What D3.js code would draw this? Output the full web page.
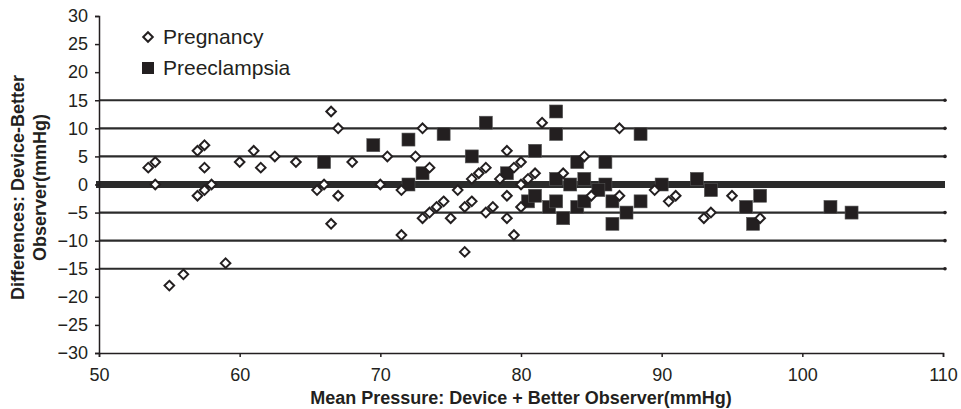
<!DOCTYPE html>
<html>
<head>
<meta charset="utf-8">
<script src="https://cdn.jsdelivr.net/npm/d3@7"></script>
<style>
  body { margin: 0; background: #fff; }
  text { font-family: "Liberation Sans", Arial, sans-serif; fill: #231f20; }
</style>
</head>
<body>
<div id="wrapper"></div>
<script>
// Bland-Altman style plot: device vs better observer

// Pregnancy (open diamonds) [mean, difference]
var pregnancyMean = [53.5, 54, 54, 55, 56, 57, 57.5, 57.5, 57, 57.5, 58, 59, 60, 61, 61.5, 62.5, 64, 65.5, 66, 66.5,
  66.5, 67, 68, 67, 70.5, 70, 71.5, 71.5, 73, 72.5, 73.5, 73, 73.5, 74, 74.5, 75, 75.5, 76, 76.5, 76,
  76.5, 77, 77.5, 77.5, 78, 78.5, 79, 79, 79, 79.5, 79.5, 80, 80, 80, 80.5, 81, 81.5, 83, 84.5, 85,
  87, 87, 89.5, 90.5, 91, 93, 93.5, 95, 97];
var pregnancyDiff = [3, 4, 0, -18, -16, 6, 7, 3, -2, -1, 0, -14, 4, 6, 3, 5, 4, -1, 0, -7,
  13, 10, 4, -2, 5, 0, -1, -9, 10, 5, 3, -6, -5, -4, -3, -6, -1, -4, -3, -12,
  1, 2, 3, -5, -4, 1, 6, -2, -6, -9, 3, 4, -4, 0, 1, 2, 11, 2, 5, -2,
  10, -2, -1, -3, -2, -6, -5, -2, -6];

// Preeclampsia (filled squares)
var preeclampsiaMean = [66, 69.5, 72, 72, 73, 74.5, 76.5, 77.5, 79, 81, 80.5, 81, 82.5, 82.5, 82.5, 82, 82.5, 83, 83.5, 84,
  84.5, 84, 84.5, 86, 86, 85.5, 86.5, 86.5, 87.5, 88.5, 88.5, 90, 92.5, 93.5, 97, 96, 96.5, 102, 103.5];
var preeclampsiaDiff = [4, 7, 8, 0, 2, 9, 5, 11, 2, 6, -3, -2, 13, 9, 1, -4, -3, -6, 0, 4,
  1, -4, -3, 4, 0, -1, -3, -7, -5, 9, -3, 0, 1, -1, -2, -4, -7, -4, -5];

// horizontal reference lines
var refLines = [15, 10, 5, 0, -5, -10, -15];

var xTicks = [50, 60, 70, 80, 90, 100, 110];
var yTicks = [30, 25, 20, 15, 10, 5, 0, -5, -10, -15, -20, -25, -30];

var width = 961,
  height = 409;

var x = d3.scaleLinear().domain([50, 110]).range([99, 943]);
var y = d3.scaleLinear().domain([-30, 30]).range([353, 16]);

var svg = d3.select("#wrapper").append("svg")
  .attr("width", width)
  .attr("height", height);

// reference lines, 0 is the thick one
svg.append("g").selectAll("line")
  .data(refLines)
  .enter().append("line")
  .attr("x1", function (d) { return d === 0 ? x(50) - 3 : x(50); })
  .attr("x2", x(110) + 2)
  .attr("y1", function (d) { return y(d); })
  .attr("y2", function (d) { return y(d); })
  .attr("stroke", "#2b2b2b")
  .attr("stroke-width", function (d) { return d === 0 ? 7 : 2.2; });

// little end markers on the reference lines
svg.append("g").selectAll("circle")
  .data(refLines.filter(function (d) { return d !== 0; }))
  .enter().append("circle")
  .attr("cx", x(110) + 2)
  .attr("cy", function (d) { return y(d); })
  .attr("r", 1.8)
  .attr("fill", "#231f20");

// axes
var xAxis = svg.append("g")
  .attr("transform", "translate(0," + y(-30) + ")")
  .call(d3.axisBottom(x).tickValues(xTicks).tickSize(4).tickPadding(11));

var yAxis = svg.append("g")
  .attr("transform", "translate(" + x(50) + ",0)")
  .call(d3.axisLeft(y).tickValues(yTicks).tickSize(4).tickPadding(7)
    .tickFormat(function (d) { return d < 0 ? "\u2212" + Math.abs(d) : d; }));

[xAxis, yAxis].forEach(function (a) {
  a.select(".domain").attr("stroke", "#231f20").attr("stroke-width", 1.5);
  a.selectAll(".tick line").attr("stroke", "#231f20").attr("stroke-width", 1.5);
  a.selectAll(".tick text")
    .attr("font-family", "Liberation Sans, Arial, sans-serif")
    .attr("font-size", 18)
    .attr("fill", "#231f20");
});

// points
var pregnancy = pregnancyMean.map(function (m, i) { return { m: m, d: pregnancyDiff[i] }; });
var preeclampsia = preeclampsiaMean.map(function (m, i) { return { m: m, d: preeclampsiaDiff[i] }; });

var sq = 13;
svg.append("g").selectAll("rect")
  .data(preeclampsia)
  .enter().append("rect")
  .attr("x", function (d) { return x(d.m) - sq / 2; })
  .attr("y", function (d) { return y(d.d) - sq / 2; })
  .attr("width", sq).attr("height", sq)
  .attr("fill", "#231f20")
  .attr("stroke", "#555")
  .attr("stroke-width", 0.6);

var diamond = "M0,-4.8L4.8,0L0,4.8L-4.8,0Z";
svg.append("g").selectAll("path")
  .data(pregnancy)
  .enter().append("path")
  .attr("d", diamond)
  .attr("transform", function (d) { return "translate(" + x(d.m) + "," + y(d.d) + ")"; })
  .attr("fill", "#fff")
  .attr("stroke", "#231f20")
  .attr("stroke-width", 2);

// legend
svg.append("path")
  .attr("d", diamond)
  .attr("transform", "translate(148,37)")
  .attr("fill", "#fff")
  .attr("stroke", "#231f20")
  .attr("stroke-width", 2);
svg.append("text").attr("x", 163).attr("y", 44).attr("font-size", 21).text("Pregnancy");

svg.append("rect")
  .attr("x", 148 - 6).attr("y", 68 - 6)
  .attr("width", 12).attr("height", 12)
  .attr("fill", "#231f20");
svg.append("text").attr("x", 163).attr("y", 75).attr("font-size", 21).text("Preeclampsia");

// axis titles
svg.append("text")
  .attr("x", (x(50) + x(110)) / 2)
  .attr("y", 404)
  .attr("text-anchor", "middle")
  .attr("font-size", 18)
  .attr("font-weight", "bold")
  .text("Mean Pressure: Device + Better Observer(mmHg)");

var yTitle = svg.append("text")
  .attr("transform", "translate(0," + (y(0) + 3) + ") rotate(-90)")
  .attr("text-anchor", "middle")
  .attr("font-size", 18)
  .attr("font-weight", "bold");
yTitle.append("tspan").attr("x", 0).attr("y", 24).text("Differences:  Device-Better");
yTitle.append("tspan").attr("x", 0).attr("y", 46).text("Observer(mmHg)");
</script>
</body>
</html>
